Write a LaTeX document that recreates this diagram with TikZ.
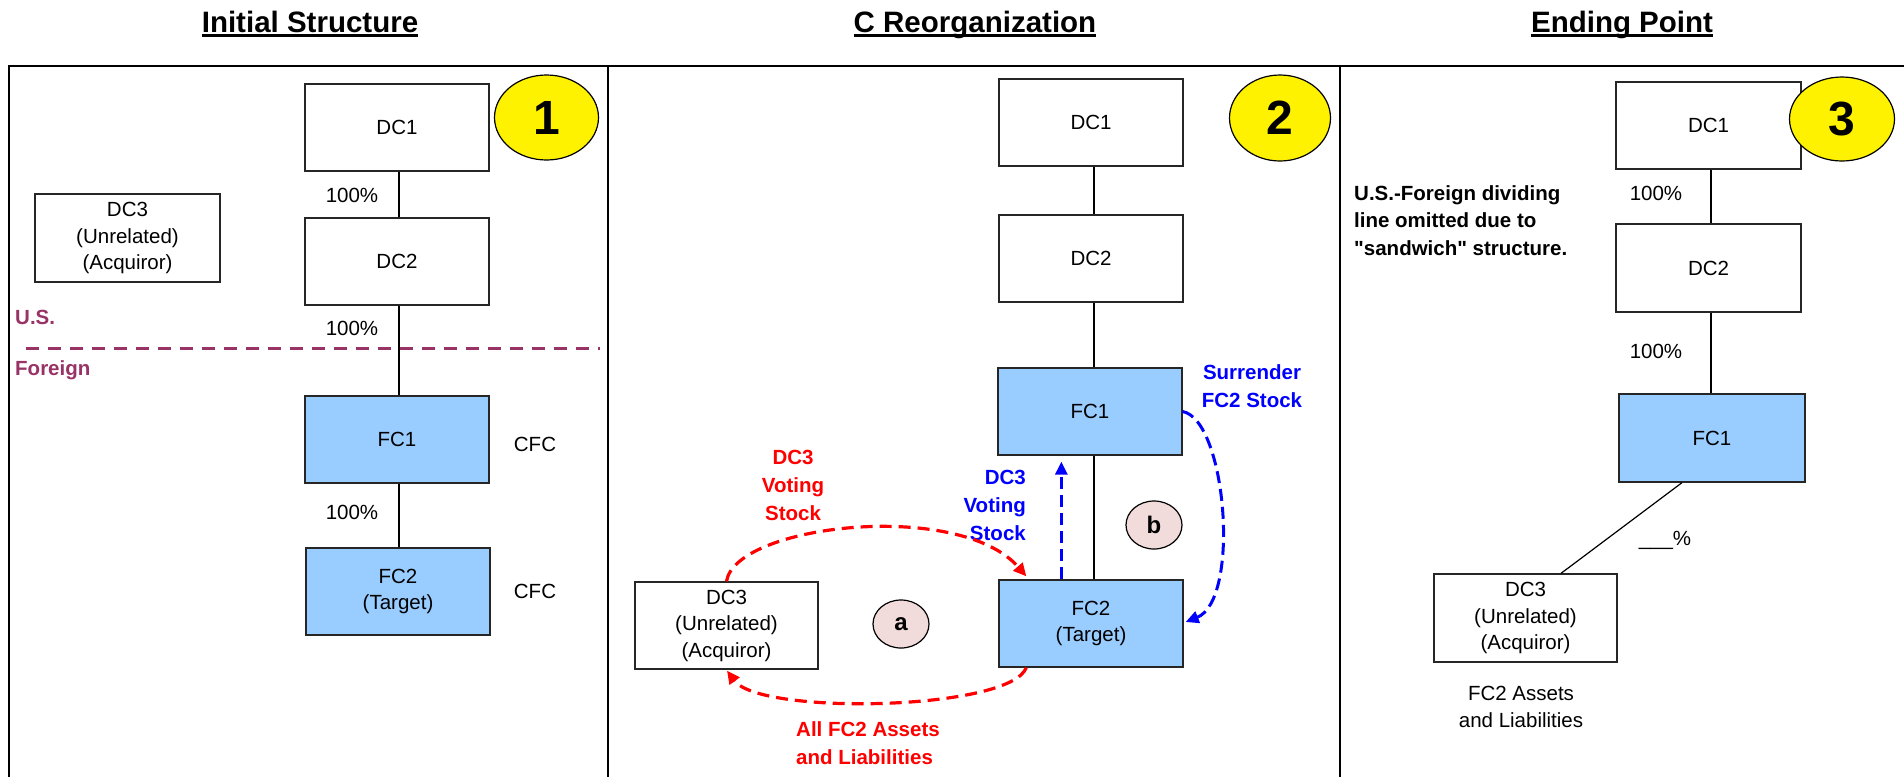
\documentclass[tikz,border=0pt]{standalone}
\usepackage{fontspec}
\setmainfont{Liberation Sans}[Ligatures=TeXOff]
\usetikzlibrary{arrows.meta,calc,shapes.geometric}
\definecolor{fcblue}{RGB}{153,204,255}
\definecolor{plum}{RGB}{153,51,102}
\definecolor{pinkfill}{RGB}{242,220,219}
\definecolor{myred}{RGB}{255,0,0}
\definecolor{myblue}{RGB}{0,0,255}
\begin{document}
\begin{tikzpicture}[x=1pt,y=-1pt,
  box/.style={draw=black!85, line width=1.3pt, minimum width=184pt, minimum height=87pt, inner sep=0pt, align=center, font=\fontsize{20.5}{26.5}\selectfont},
  fcbox/.style={box, fill=fcblue},
  lbl/.style={inner sep=0pt, align=center, font=\fontsize{20.5}{26.5}\selectfont},
  boldlbl/.style={inner sep=0pt, font=\fontsize{20.5}{28}\selectfont\bfseries},
  titlelbl/.style={inner sep=0pt, anchor=base, font=\fontsize{29.5}{32}\selectfont\bfseries},
  numell/.style={ellipse, draw=black, line width=1.2pt, fill=yellow, minimum width=104pt, minimum height=85pt, inner sep=0pt, font=\fontsize{48}{48}\selectfont\bfseries},
  stepell/.style={ellipse, draw=black, line width=1.2pt, fill=pinkfill, minimum width=56pt, minimum height=48pt, inner sep=0pt, font=\fontsize{24}{24}\selectfont\bfseries},
  conn/.style={draw=black, line width=1.2pt},
  redarrow/.style={draw=myred, line width=3.2pt, dash pattern=on 12pt off 7pt, -{Triangle[length=13pt,width=12pt]}},
  bluearrow/.style={draw=myblue, line width=3pt, dash pattern=on 12pt off 6pt, -{Triangle[length=13pt,width=12pt]}},
  underl/.style={line width=2.8pt}
]
\useasboundingbox (0,0) rectangle (1904,777);
% frame
\draw[line width=2.6pt] (9,66) -- (1904,66);
\draw[line width=2pt] (9,65) -- (9,777);
\draw[line width=2pt] (608,65) -- (608,777);
\draw[line width=2pt] (1340,65) -- (1340,777);

% titles
\node[titlelbl] (t1) at (310,32) {Initial Structure};
\node[titlelbl] (t2) at (975,32) {C Reorganization};
\node[titlelbl] (t3) at (1622,32) {Ending Point};
\foreach \t in {t1,t2,t3}{
  \draw[underl] ($(\t.base west)+(0,3.8)$) -- ($(\t.base east)+(0,3.8)$);
}

% ---------- Panel 1 ----------
\node[box] (p1dc1) at (397,127.5) {DC1};
\node[box] (p1dc2) at (397,261.5) {DC2};
\node[fcbox] (p1fc1) at (397,439.5) {FC1};
\node[fcbox] (p1fc2) at (398,591.5) {FC2\\(Target)};
\node[box, minimum width=185pt, minimum height=88pt] (p1dc3) at (127.5,238) {DC3\\(Unrelated)\\(Acquiror)};
\node[numell] (n1) at (546.5,117.5) {1};
\draw[conn] ($(p1dc1.south)+(2,0)$) -- ($(p1dc1.south |- p1dc2.north)+(2,0)$);
\draw[conn] ($(p1dc2.south)+(2,0)$) -- ($(p1dc2.south |- p1fc1.north)+(2,0)$);
\draw[conn] ($(p1fc1.south)+(2,0)$) -- ($(p1fc1.south |- p1fc2.north)+(2,0)$);
\node[lbl] (p1l1) at (352,195) {100\%};
\node[lbl] (p1l2) at (352,328) {100\%};
\node[lbl] (p1l3) at (352,512) {100\%};
\node[lbl] (p1c1) at (535,444) {CFC};
\node[lbl] (p1c2) at (535,591) {CFC};
\node[boldlbl, text=plum, anchor=west] (us) at (15,317) {U.S.};
\node[boldlbl, text=plum, anchor=west] (foreign) at (15,370) {Foreign};
\coordinate (dl1) at (26,348);
\coordinate (dl2) at (600,348);
\draw[plum, line width=3pt, dash pattern=on 13pt off 9pt] (dl1) -- (dl2);

% ---------- Panel 2 ----------
\node[box] (p2dc1) at (1091,122.5) {DC1};
\node[box] (p2dc2) at (1091,258.5) {DC2};
\node[fcbox] (p2fc1) at (1090,411.5) {FC1};
\node[fcbox] (p2fc2) at (1091,623.5) {FC2\\(Target)};
\node[box, minimum width=183pt] (p2dc3) at (726.5,625.5) {DC3\\(Unrelated)\\(Acquiror)};
\node[numell, minimum width=101pt, minimum height=86pt] (n2) at (1280,118) {2};
\node[stepell] (sa) at (901,624) {a};
\node[stepell] (sb) at (1154,525) {b};
\draw[conn] ($(p2dc1.south)+(3,0)$) -- ($(p2dc1.south |- p2dc2.north)+(3,0)$);
\draw[conn] ($(p2dc2.south)+(3,0)$) -- ($(p2dc2.south |- p2fc1.north)+(3,0)$);
\draw[conn] ($(p2fc1.south)+(4,0)$) -- ($(p2fc1.south |- p2fc2.north)+(4,0)$);
\node[boldlbl, text=myred, align=center] (rl) at (793,485) {DC3\\Voting\\Stock};
\node[boldlbl, text=myblue, align=right, anchor=east] (bl) at (1026,505) {DC3\\Voting\\Stock};
\node[boldlbl, text=myblue, align=center] (sl) at (1252,386) {Surrender\\FC2 Stock};
\node[boldlbl, text=myred, align=left, anchor=west] (al) at (796,743.5) {All FC2 Assets\\and Liabilities};
\draw[redarrow] (p2dc3.north) .. controls ($(p2dc3.north)+(9,-57)$) and ($(p2fc2.north west)+(-39,-80)$) .. ($(p2fc2.north west)+(28,-3)$);
\draw[redarrow] ($(p2fc2.south west)+(28,0)$) .. controls ($(p2fc2.south west)+(11,43)$) and ($(p2dc3.south)+(33.5,46)$) .. ($(p2dc3.south)+(0.5,1)$);
\draw[bluearrow] ($(p2fc2.north west)+(63,0)$) -- ($(p2fc1.south west)+(64,6)$);
\draw[bluearrow] (p2fc1.east) .. controls ($(p2fc1.east)+(44,8.5)$) and ($(p2fc2.east)+(57,-23.5)$) .. ($(p2fc2.east)+(2,-1.5)$);

% ---------- Panel 3 ----------
\node[box, minimum width=185pt] (p3dc1) at (1708.5,125.5) {DC1};
\node[box, minimum width=185pt, minimum height=88pt] (p3dc2) at (1708.5,268) {DC2};
\node[fcbox, minimum width=186pt, minimum height=88pt] (p3fc1) at (1712,438) {FC1};
\node[box, minimum width=183pt, minimum height=88pt] (p3dc3) at (1525.5,618) {DC3\\(Unrelated)\\(Acquiror)};
\node[numell, minimum width=105pt, minimum height=84pt] (n3) at (1842,119) {3};
\draw[conn] ($(p3dc1.south)+(2.5,0)$) -- ($(p3dc1.south |- p3dc2.north)+(2.5,0)$);
\draw[conn] ($(p3dc2.south)+(2.5,0)$) -- ($(p3dc2.south |- p3fc1.north)+(2.5,0)$);
\draw[conn] ($(p3fc1.south)+(-30,0)$) -- ($(p3dc3.north)+(35.5,0)$);
\node[lbl] (p3l1) at (1656,193) {100\%};
\node[lbl] (p3l2) at (1656,351) {100\%};
\node[lbl] (p3l3) at (1665,540) {\_\_\_\%};
\node[boldlbl, align=left, anchor=west, font=\fontsize{20.5}{27.5}\selectfont\bfseries] (note) at (1354,220.5) {U.S.-Foreign dividing\\line omitted due to\\"sandwich" structure.};
\node[lbl, font=\fontsize{20.5}{27}\selectfont] (p3al) at (1521,706.5) {FC2 Assets\\and Liabilities};
\end{tikzpicture}
\end{document}
